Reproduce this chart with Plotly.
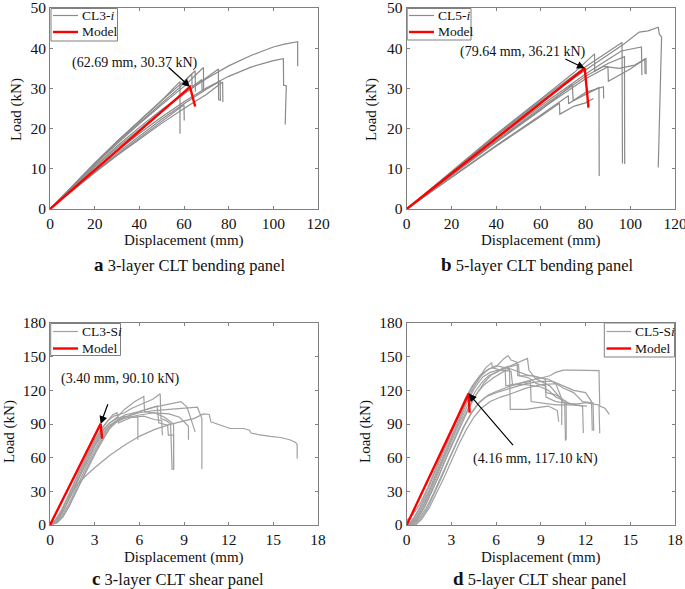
import plotly.graph_objects as go

W, H = 685, 589
FONT = "Liberation Serif, Times New Roman, serif"

# ---------------- Panel a: 3-layer CLT bending (CL3-i) ----------------
A_X = [
    [0, 10, 20, 30, 40, 50, 60, 70, 80, 90, 100, 105, 110.9, 110.9],
    [0, 10, 20, 30, 40, 50, 60, 70, 80, 90, 100, 104.5, 104.6, 105.8, 105.3],
    [0, 10, 20, 30, 40, 50, 58.2, 58.2],
    [0, 10, 20, 30, 40, 50, 60, 60.1],
    [0, 10, 20, 30, 40, 50, 60, 65, 65.1],
    [0, 10, 20, 30, 40, 50, 60, 68.7, 68.8],
    [0, 10, 20, 30, 40, 50, 60, 70, 75.4, 75.5, 76.5],
    [0, 10, 20, 30, 40, 50, 60, 70, 77.3, 77.4],
    [0, 10, 20, 30, 40, 50, 60, 70, 76.2, 76.3],
    [0, 10, 20, 30, 40, 50, 58, 63.5, 63.6, 68, 68.1],
]
A_Y = [
    [0, 5.4, 10.6, 15.6, 20.3, 24.7, 28.8, 32.4, 35.6, 38.2, 40.3, 41.0, 41.6, 35.5],
    [0, 5.0, 9.8, 14.4, 18.8, 22.9, 26.7, 30.1, 33.0, 35.3, 36.9, 37.4, 30.8, 30.6, 21.0],
    [0, 5.8, 11.4, 16.8, 22.0, 27.0, 31.7, 18.7],
    [0, 4.7, 9.2, 13.5, 17.6, 21.8, 25.9, 22.0],
    [0, 5.8, 11.4, 16.8, 22.0, 27.0, 31.8, 34.4, 29.2],
    [0, 5.6, 11.0, 16.2, 21.2, 25.9, 30.5, 35.2, 29.5],
    [0, 5.2, 10.3, 15.2, 19.9, 24.4, 28.6, 32.5, 34.8, 27.2, 27.0],
    [0, 4.6, 9.0, 13.3, 17.4, 21.3, 25.0, 28.5, 31.6, 26.6],
    [0, 4.8, 9.4, 13.9, 18.2, 22.3, 26.2, 29.8, 31.8, 27.0],
    [0, 5.7, 11.2, 16.5, 21.5, 26.3, 30.2, 33.6, 30.4, 32.2, 29.5],
]
A_MODEL_X = [0, 62.69, 65.0]
A_MODEL_Y = [0, 30.37, 25.5]

# ---------------- Panel b: 5-layer CLT bending (CL5-i) ----------------
B_X = [
    [0, 20, 40, 60, 80, 97, 104, 108, 112.5, 113, 114, 112.5],
    [0, 20, 40, 60, 80, 96.3, 96.5],
    [0, 20, 40, 60, 75, 84, 84.1, 90, 97.4, 97.5],
    [0, 20, 40, 60, 80, 90, 96, 105, 105.2],
    [0, 20, 40, 60, 80, 90, 90.2, 100, 106.5, 106.6],
    [0, 20, 40, 60, 74, 74.5, 86, 86.1],
    [0, 20, 40, 60, 68.3, 68.5, 75, 80, 83.5],
    [0, 20, 40, 60, 72.3, 72.4, 80, 88, 88.1],
    [0, 20, 40, 60, 80, 88, 95, 102, 107, 107.1],
]
B_Y = [
    [0, 9.2, 18.2, 26.8, 34.6, 41.0, 44.0, 44.3, 45.2, 43.5, 42.8, 10.3],
    [0, 9.3, 18.4, 27.2, 35.4, 41.4, 11.3],
    [0, 9.4, 18.6, 27.4, 34.0, 38.6, 34.3, 36.2, 37.9, 11.2],
    [0, 8.8, 17.4, 25.7, 33.6, 37.2, 39.3, 40.3, 33.3],
    [0, 8.5, 16.8, 24.8, 32.4, 35.4, 31.8, 34.8, 37.3, 33.6],
    [0, 8.4, 16.6, 24.6, 31.0, 26.9, 30.2, 8.2],
    [0, 7.9, 15.6, 23.1, 26.3, 23.6, 25.6, 26.4, 27.5],
    [0, 8.0, 15.8, 23.4, 28.2, 26.2, 29.0, 30.4, 27.5],
    [0, 8.6, 17.0, 25.2, 33.0, 35.5, 35.0, 35.8, 37.4, 33.5],
]
B_MODEL_X = [0, 79.64, 81.3]
B_MODEL_Y = [0, 35.0, 25.2]

# ---------------- Panel c: 3-layer CLT shear (CL3-Si) ----------------
C_X = [
    [0, 0.4, 0.8, 1.2, 1.6, 1.9, 2.5, 3.0, 4.0, 5.0, 6.0, 7.0, 8.0, 9.0, 9.7, 10.3, 10.7, 10.8, 11.4, 12.1, 13.0, 13.4, 13.5, 14.0, 14.8, 15.5, 16.1, 16.5, 16.6, 16.6],
    [0, 0.3, 0.7, 1.1, 1.5, 2.0, 2.5, 3.0, 3.5, 3.9, 4.3, 5.0, 5.5, 6.0, 6.9, 7.4, 7.45, 7.8, 8.1, 8.15, 8.2],
    [0, 0.3, 0.7, 1.1, 1.5, 2.0, 2.5, 3.0, 3.5, 4.0, 4.5, 5.0, 5.7, 6.3, 6.35, 7.0, 7.7, 8.3, 8.3],
    [0, 0.4, 0.8, 1.2, 1.6, 2.0, 2.5, 3.0, 3.5, 4.0, 4.5, 5.0, 6.0, 7.0, 8.0, 8.8, 9.2, 9.5, 9.7, 9.75],
    [0, 0.4, 0.8, 1.2, 1.6, 2.0, 2.5, 3.0, 3.5, 4.0, 4.5, 5.0, 6.0, 7.0, 8.0, 9.0, 9.9, 10.2, 10.2],
    [0, 0.5, 0.9, 1.3, 1.7, 2.1, 2.6, 3.1, 3.6, 4.0, 4.5, 5.0, 6.0, 7.0, 8.0, 8.7, 9.2, 9.3, 9.3],
    [0, 0.35, 0.75, 1.15, 1.55, 2.0, 2.5, 3.0, 3.5, 4.0, 4.5, 5.0, 5.5, 5.9, 5.9],
    [0, 0.45, 0.85, 1.25, 1.65, 2.1, 2.6, 3.1, 3.6, 4.2, 5.0, 6.0, 7.2, 7.3, 7.9, 7.95, 8.3, 8.3],
    [0, 0.3, 0.7, 1.1, 1.5, 2.0, 2.5, 3.0, 3.4, 3.8, 4.2, 4.5, 4.6, 5.5, 6.3, 7.0, 7.5, 7.55],
]
C_Y = [
    [0, 5, 14, 24, 32, 37, 45, 51, 62, 71, 79, 85, 89.5, 93, 95, 99, 98.5, 92, 89, 86, 86, 84.5, 82, 80.5, 79, 78, 76, 73.5, 71.5, 59],
    [0, 3, 10, 21, 33, 48, 62, 75, 86, 93, 97, 100, 104, 107, 112, 117, 95, 93, 90, 70, 49],
    [0, 2, 8, 18, 30, 44, 58, 71, 83, 91, 96, 103, 110, 114.5, 101, 100, 96, 90, 49],
    [0, 2, 8, 17, 28, 40, 54, 67, 79, 88, 93, 96, 101, 105, 108, 110, 105, 92, 84, 83],
    [0, 3, 10, 20, 31, 43, 57, 70, 81, 89, 93, 96, 100, 102, 103, 104, 105, 95, 50],
    [0, 2, 8, 17, 28, 40, 54, 67, 79, 86, 92, 95, 98, 100, 99, 96, 90, 88, 76],
    [0, 3, 10, 20, 32, 46, 60, 73, 84, 91, 95, 97, 96, 96, 76],
    [0, 2, 7, 16, 27, 39, 52, 65, 77, 90, 98, 101, 106, 91, 89, 80, 80, 50],
    [0, 3, 11, 22, 34, 49, 63, 76, 85, 92, 98, 100, 91, 96, 97, 94, 93, 80],
]
C_MODEL_X = [0, 3.40, 3.50]
C_MODEL_Y = [0, 90.10, 77.0]

# ---------------- Panel d: 5-layer CLT shear (CL5-Si) ----------------
D_X = [
    [0.1, 0.5, 1.0, 1.5, 2.0, 2.5, 3.0, 3.5, 4.0, 4.5, 5.0, 5.5, 6.0, 6.5, 6.8, 7.0, 7.4, 7.45, 8.5, 9.3, 9.35, 10.0, 10.5, 10.7, 10.7],
    [0.2, 0.6, 1.1, 1.6, 2.1, 2.6, 3.1, 3.6, 4.1, 4.6, 5.1, 5.5, 6.0, 6.5, 7.0, 7.5, 8.1, 8.2, 8.6, 9.0, 9.6, 10.0, 10.4, 10.4],
    [0.5, 0.9, 1.4, 1.9, 2.4, 2.9, 3.4, 3.9, 4.4, 4.9, 5.5, 6.0, 7.0, 8.0, 9.0, 9.6, 10.0, 10.5, 11.2, 12.0, 12.9, 12.95, 13.3, 13.6],
    [0.1, 0.5, 1.0, 1.5, 2.0, 2.5, 3.0, 3.5, 4.0, 4.5, 5.0, 5.3, 5.7, 5.75, 6.3, 7.0, 7.1, 8.0, 9.0, 9.5, 10.0, 11.0, 11.8, 11.85],
    [0.3, 0.7, 1.2, 1.7, 2.2, 2.7, 3.2, 3.7, 4.2, 4.7, 5.2, 5.8, 6.4, 6.9, 6.95, 8.0, 9.0, 9.5, 9.8, 10.1, 10.2],
    [0.4, 0.8, 1.3, 1.8, 2.3, 2.8, 3.3, 3.8, 4.3, 4.8, 5.3, 6.0, 7.0, 8.0, 9.0, 9.8, 10.5, 11.2, 12.0, 12.4, 12.45],
    [0.6, 1.0, 1.5, 2.0, 2.5, 3.0, 3.5, 4.0, 4.5, 5.0, 5.6, 6.3, 7.0, 8.0, 9.0, 10.0, 10.5, 11.0, 11.5, 12.0, 12.5, 12.9, 12.95],
    [0.3, 0.7, 1.2, 1.7, 2.2, 2.7, 3.2, 3.7, 4.2, 4.7, 5.2, 5.7, 6.3, 6.6, 6.65, 7.5, 8.3, 8.35, 9.5, 10.0, 11.0, 12.0, 12.1],
    [0.2, 0.6, 1.1, 1.6, 2.1, 2.6, 3.1, 3.6, 4.1, 4.6, 5.1, 5.6, 6.2, 6.8, 7.5, 7.55, 8.2, 8.7, 9.0, 9.3, 9.35, 10.0, 10.6, 10.65],
    [0.0, 0.4, 0.9, 1.4, 1.9, 2.4, 2.9, 3.4, 3.9, 4.4, 4.9, 5.4, 6.0, 7.0, 8.0, 9.0, 9.5, 10.0, 10.5, 11.2, 11.8, 12.5, 12.55],
]
D_Y = [
    [0, 6, 17, 31, 47, 63, 79, 95, 110, 123, 133, 139, 141, 148, 151, 147, 145, 133, 133, 130, 118, 116, 112, 110, 76],
    [0, 5, 16, 30, 46, 62, 78, 93, 107, 119, 128, 133, 136, 140, 142, 145, 148.5, 138, 131, 128, 124, 118, 112, 89],
    [0, 5, 15, 29, 44, 60, 75, 89, 101, 110, 116, 119, 124, 128, 131, 133, 136, 138, 138, 138, 137.5, 106, 104, 98.5],
    [0, 7, 19, 34, 50, 66, 82, 98, 113, 125, 135, 140, 144.7, 140, 138, 137, 125, 125, 123, 120, 114, 108, 106, 82],
    [0, 5, 16, 30, 46, 62, 78, 93, 106, 117, 125, 131, 136, 139, 103, 103, 105, 106, 104, 102, 92],
    [0, 5, 15, 28, 43, 58, 73, 87, 99, 108, 114, 118, 122, 126, 128, 128, 124, 120, 118, 110, 84],
    [0, 5, 15, 28, 42, 57, 72, 85, 96, 104, 110, 114, 117, 122, 125, 126, 109, 108, 108, 109, 108, 107, 81.7],
    [0, 5, 16, 30, 45, 61, 76, 91, 105, 117, 127, 134, 138, 140, 124, 126, 128, 110, 108, 107, 107, 106, 106],
    [0, 6, 17, 32, 48, 64, 80, 96, 111, 123, 132, 136, 138, 140, 143, 133, 131, 126, 125, 124, 114, 110, 109, 75],
    [4, 9, 19, 33, 49, 65, 81, 97, 112, 124, 133, 138, 142, 139, 134, 131, 130, 126, 122, 118, 110, 109, 84],
]
D_MODEL_X = [0, 4.16, 4.22]
D_MODEL_Y = [0, 117.10, 100.0]

# legend labels
LEGEND_NAMES = ["CL3-<i>i</i>", "CL5-<i>i</i>", "CL3-S<i>i</i>", "CL5-S<i>i</i>"]
MODEL_NAME = "Model"

# ---------------- Figure ----------------
def px(x):
    return x / W

def py(y):
    return 1 - y / H

fig = go.Figure()

GRAY_AB = "#8a8a8a"
GRAY_CD = "#a0a0a0"
RED = "#ff0000"

panels = [
    ("x", "y", A_X, A_Y, A_MODEL_X, A_MODEL_Y, LEGEND_NAMES[0], GRAY_AB),
    ("x2", "y2", B_X, B_Y, B_MODEL_X, B_MODEL_Y, LEGEND_NAMES[1], GRAY_AB),
    ("x3", "y3", C_X, C_Y, C_MODEL_X, C_MODEL_Y, LEGEND_NAMES[2], GRAY_CD),
    ("x4", "y4", D_X, D_Y, D_MODEL_X, D_MODEL_Y, LEGEND_NAMES[3], GRAY_CD),
]

for xa, ya, cx, cy, mx, my, name, gcol in panels:
    for i, (xs, ys) in enumerate(zip(cx, cy)):
        fig.add_trace(go.Scatter(
            x=xs, y=ys, mode="lines", xaxis=xa, yaxis=ya,
            line=dict(color=gcol, width=1.2),
            name=name, showlegend=False, hoverinfo="skip"))
    fig.add_trace(go.Scatter(
        x=mx, y=my, mode="lines", xaxis=xa, yaxis=ya,
        line=dict(color=RED, width=2.4),
        name=MODEL_NAME, showlegend=False, hoverinfo="skip"))

axis_common = dict(
    showline=True, linecolor="#808080", linewidth=1, mirror="ticks",
    ticks="inside", ticklen=3, tickcolor="#808080", tickwidth=1,
    showgrid=False, zeroline=False, automargin=False,
    ticklabeloverflow="allow",
    tickfont=dict(family=FONT, size=15.5, color="#111111"),
)

XL, XR = px(50), px(318)
X2L, X2R = px(406.7), px(675)
YT_TOP, YB_TOP = py(8), py(209)
YT_BOT, YB_BOT = py(323), py(525)

fig.update_layout(
    xaxis=dict(domain=[XL, XR], range=[0, 120], dtick=20, anchor="y", **axis_common),
    yaxis=dict(domain=[YB_TOP, YT_TOP], range=[0, 50], dtick=10, anchor="x", **axis_common),
    xaxis2=dict(domain=[X2L, X2R], range=[0, 120], dtick=20, anchor="y2", **axis_common),
    yaxis2=dict(domain=[YB_TOP, YT_TOP], range=[0, 50], dtick=10, anchor="x2", **axis_common),
    xaxis3=dict(domain=[XL, XR], range=[0, 18], dtick=3, anchor="y3", **axis_common),
    yaxis3=dict(domain=[YB_BOT, YT_BOT], range=[0, 180], dtick=30, anchor="x3", **axis_common),
    xaxis4=dict(domain=[X2L, X2R], range=[0, 18], dtick=3, anchor="y4", **axis_common),
    yaxis4=dict(domain=[YB_BOT, YT_BOT], range=[0, 180], dtick=30, anchor="x4", **axis_common),
)

shapes = []
ann = []

# legends drawn as boxes (left, right, top, bottom, row1 y, row2 y, sample x0, sample x1, text x)
legend_boxes = [
    (51, 117.5, 8.5, 41, 15.5, 32, 53, 78, 80, LEGEND_NAMES[0], GRAY_AB),
    (407.2, 471, 8.5, 40, 15.5, 32, 409, 434, 436, LEGEND_NAMES[1], GRAY_AB),
    (50.7, 120.5, 323.5, 355.5, 331.5, 348.5, 53, 78, 80, LEGEND_NAMES[2], GRAY_CD),
    (604.3, 674.5, 323, 357, 331.5, 348.5, 606.5, 631, 632.5, LEGEND_NAMES[3], GRAY_CD),
]
for l, r, t, b, r1, r2, s0, s1, tx, nm, gcol in legend_boxes:
    shapes.append(dict(type="rect", xref="paper", yref="paper", x0=px(l), x1=px(r),
                       y0=py(b), y1=py(t), line=dict(color="#808080", width=1),
                       fillcolor="white", layer="above"))
    shapes.append(dict(type="line", xref="paper", yref="paper", x0=px(s0), x1=px(s1),
                       y0=py(r1), y1=py(r1), line=dict(color=gcol, width=1.2), layer="above"))
    shapes.append(dict(type="line", xref="paper", yref="paper", x0=px(s0), x1=px(s1),
                       y0=py(r2), y1=py(r2), line=dict(color=RED, width=2.4), layer="above"))
    ann.append(dict(x=px(tx), y=py(r1), xref="paper", yref="paper", text=nm,
                    showarrow=False, xanchor="left", yanchor="middle",
                    font=dict(family=FONT, size=13.5, color="#111111")))
    ann.append(dict(x=px(tx), y=py(r2), xref="paper", yref="paper", text=MODEL_NAME,
                    showarrow=False, xanchor="left", yanchor="middle",
                    font=dict(family=FONT, size=13.5, color="#111111")))

# axis titles
for xc, yc in [(17, 110), (372, 110), (9, 432), (365, 432)]:
    ann.append(dict(x=px(xc), y=py(yc), xref="paper", yref="paper", text="Load (kN)",
                    textangle=-90, showarrow=False, xanchor="center", yanchor="middle",
                    font=dict(family=FONT, size=15, color="#111111")))
for xc, yc in [(184, 240.5), (541, 240.5), (184, 557.5), (541, 557.5)]:
    ann.append(dict(x=px(xc), y=py(yc), xref="paper", yref="paper", text="Displacement (mm)",
                    showarrow=False, xanchor="center", yanchor="middle",
                    font=dict(family=FONT, size=15, color="#111111")))
# captions
caps = [
    (189, 264, "a", "3-layer CLT bending panel"),
    (537, 264, "b", "5-layer CLT bending panel"),
    (178, 578, "c", "3-layer CLT shear panel"),
    (540, 578, "d", "5-layer CLT shear panel"),
]
for xc, yc, letter, txt in caps:
    ann.append(dict(x=px(xc), y=py(yc), xref="paper", yref="paper",
                    text="<span style='font-size:19px'><b>" + letter + "</b></span> " + txt,
                    showarrow=False, xanchor="center", yanchor="middle",
                    font=dict(family=FONT, size=16.5, color="#111111")))

# value labels with arrows
labels = [
    ("x", "y", "(62.69 mm, 30.37 kN)", 135, 63, 52.4, 35.6, 62.69, 30.37),
    ("x2", "y2", "(79.64 mm, 36.21 kN)", 523, 52, 70.3, 37.5, 79.64, 35.0),
    ("x3", "y3", "(3.40 mm, 90.10 kN)", 120, 379, 3.92, 109.0, 3.40, 90.10),
    ("x4", "y4", "(4.16 mm, 117.10 kN)", 535, 459, 7.22, 69.8, 4.16, 117.10),
]
for xa, ya, txt, tx, ty, ax_, ay_, hx, hy in labels:
    ann.append(dict(x=px(tx), y=py(ty), xref="paper", yref="paper", text=txt,
                    showarrow=False, xanchor="center", yanchor="middle",
                    font=dict(family=FONT, size=14, color="#111111")))
    ann.append(dict(x=hx, y=hy, xref=xa, yref=ya, ax=ax_, ay=ay_, axref=xa, ayref=ya,
                    text="", showarrow=True, arrowhead=2, arrowsize=1.3, arrowwidth=1.2,
                    arrowcolor="#000000", standoff=0, startstandoff=0))

fig.update_layout(
    annotations=ann, shapes=shapes, showlegend=False,
    width=W, height=H, autosize=False,
    margin=dict(l=0, r=0, t=0, b=0),
    paper_bgcolor="white", plot_bgcolor="white",
    font=dict(family=FONT, color="#111111"),
)

fig.write_html(
    "out.html",
    config={"displayModeBar": False},
    post_script="document.body.style.margin='0';document.body.style.padding='0';"
                "document.body.style.overflow='hidden';",
)
